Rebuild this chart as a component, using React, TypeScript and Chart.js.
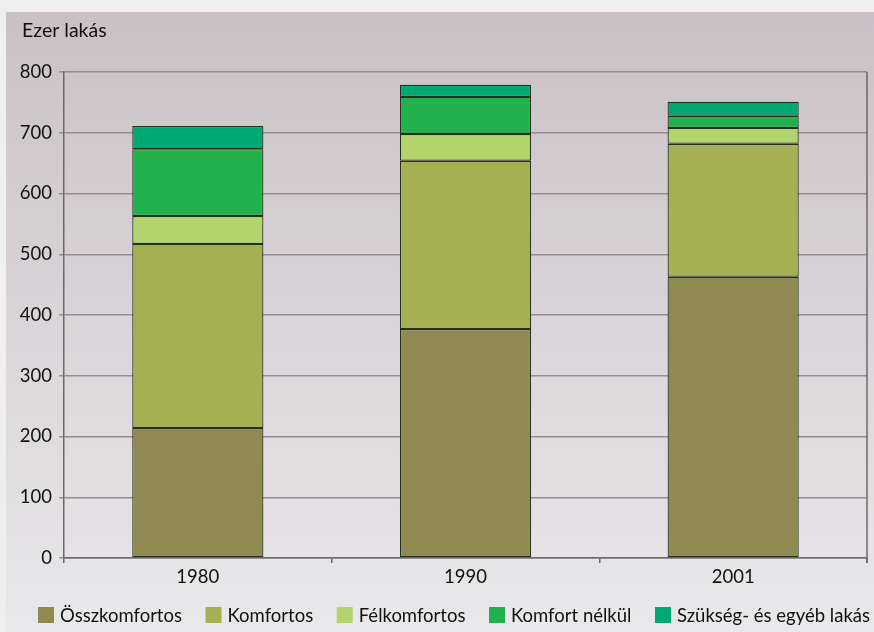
import React, { useEffect, useRef } from "react";
import { Chart, registerables } from "chart.js";

Chart.register(...registerables);

const categories = ["1980", "1990", "2001"];
const seriesNames = ["Összkomfortos", "Komfortos", "Félkomfortos", "Komfort nélkül", "Szükség- és egyéb lakás"];
const osszkomfortos = [214, 377, 463];
const komfortos = [303, 277, 219];
const felkomfortos = [46, 44, 26];
const komfortNelkul = [110, 61, 20];
const szukseg = [38, 20, 23];
const seriesColors = ["#8f8a52", "#a4b052", "#b2d46c", "#22b14c", "#00a972"];
const yTicks = [0, 100, 200, 300, 400, 500, 600, 700, 800];
const unitLabel = "Ezer lakás";

const FONT = "Lato, 'Open Sans', sans-serif";

const panelPlugin = {
  id: "panel",
  beforeDraw(chart: any) {
    const ctx = chart.ctx;
    ctx.save();
    ctx.fillStyle = "#efefef";
    ctx.fillRect(0, 0, chart.width, chart.height);
    const g = ctx.createLinearGradient(0, 12, 0, chart.height);
    g.addColorStop(0, "#c9c1c5");
    g.addColorStop(1, "#e9e8ea");
    ctx.fillStyle = g;
    ctx.fillRect(6, 12, chart.width - 6, chart.height - 12);
    ctx.fillStyle = "#111";
    ctx.font = `19.5px ${FONT}`;
    ctx.textBaseline = "middle";
    ctx.textAlign = "left";
    ctx.fillText(unitLabel, 22, 31);
    ctx.restore();
  },
  afterDatasetsDraw(chart: any) {
    const { ctx, chartArea } = chart;
    ctx.save();
    ctx.strokeStyle = "#6f666b";
    ctx.lineWidth = 1.5;
    ctx.beginPath();
    ctx.moveTo(chartArea.right, chartArea.top);
    ctx.lineTo(chartArea.right, chartArea.bottom + 5);
    ctx.stroke();
    ctx.restore();
  },
  afterDraw(chart: any) {
    const ctx = chart.ctx;
    ctx.save();
    ctx.font = `18.5px ${FONT}`;
    ctx.textBaseline = "middle";
    ctx.textAlign = "left";
    const datasets = chart.data.datasets;
    const widths = datasets.map((d: any) => ctx.measureText(d.label).width);
    const left = 38;
    const right = 870;
    const boxGap = 22;
    const used = widths.reduce((a: number, w: number) => a + w + boxGap, 0);
    const gap = (right - left - used) / (datasets.length - 1);
    let x = left;
    const cy = 615;
    datasets.forEach((d: any, i: number) => {
      ctx.fillStyle = d.backgroundColor;
      ctx.fillRect(x, cy - 8, 16, 16);
      ctx.fillStyle = "#111";
      ctx.fillText(d.label, x + boxGap, cy + 1);
      x += boxGap + widths[i] + gap;
    });
    ctx.restore();
  },
};

export default function App() {
  const ref = useRef<HTMLCanvasElement>(null);
  useEffect(() => {
    if (!ref.current) return;
    const values = [osszkomfortos, komfortos, felkomfortos, komfortNelkul, szukseg];
    const chart = new Chart(ref.current, {
      type: "bar",
      data: {
        labels: categories,
        datasets: seriesNames.map((name, i) => ({
          label: name,
          data: values[i],
          backgroundColor: seriesColors[i],
          borderColor: "#26301f",
          borderWidth: 1.2,
          borderSkipped: false,
          categoryPercentage: 1,
          barPercentage: 0.49,
        })),
      },
      options: {
        responsive: false,
        animation: false,
        layout: { padding: { left: 6, top: 72, right: 7, bottom: 46 } },
        plugins: {
          tooltip: { enabled: false },
          legend: { display: false },
        },
        scales: {
          x: {
            stacked: true,
            afterFit: (s: any) => {
              s.height = 28;
            },
            grid: {
              offset: true,
              drawOnChartArea: false,
              drawTicks: true,
              tickLength: 5,
              color: "#6f666b",
              lineWidth: 1.5,
            },
            border: { color: "#6f666b", width: 1.5 },
            ticks: { color: "#111", font: { family: FONT, size: 18.5 }, padding: 3 },
          },
          y: {
            stacked: true,
            min: 0,
            max: 800,
            afterFit: (s: any) => {
              s.width = 58;
            },
            afterBuildTicks: (s: any) => {
              s.ticks = yTicks.map((v) => ({ value: v }));
            },
            grid: {
              color: "#968c91",
              lineWidth: 1.5,
              tickLength: 5,
            },
            border: { color: "#6f666b", width: 1.5 },
            ticks: { color: "#111", font: { family: FONT, size: 18.5 }, padding: 7 },
          },
        },
      },
      plugins: [panelPlugin],
    });
    return () => chart.destroy();
  }, []);
  return (
    <div style={{ position: "fixed", left: 0, top: 0, width: 874, height: 632, background: "#efefef" }}>
      <canvas ref={ref} width={874} height={632} style={{ display: "block" }} />
    </div>
  );
}
